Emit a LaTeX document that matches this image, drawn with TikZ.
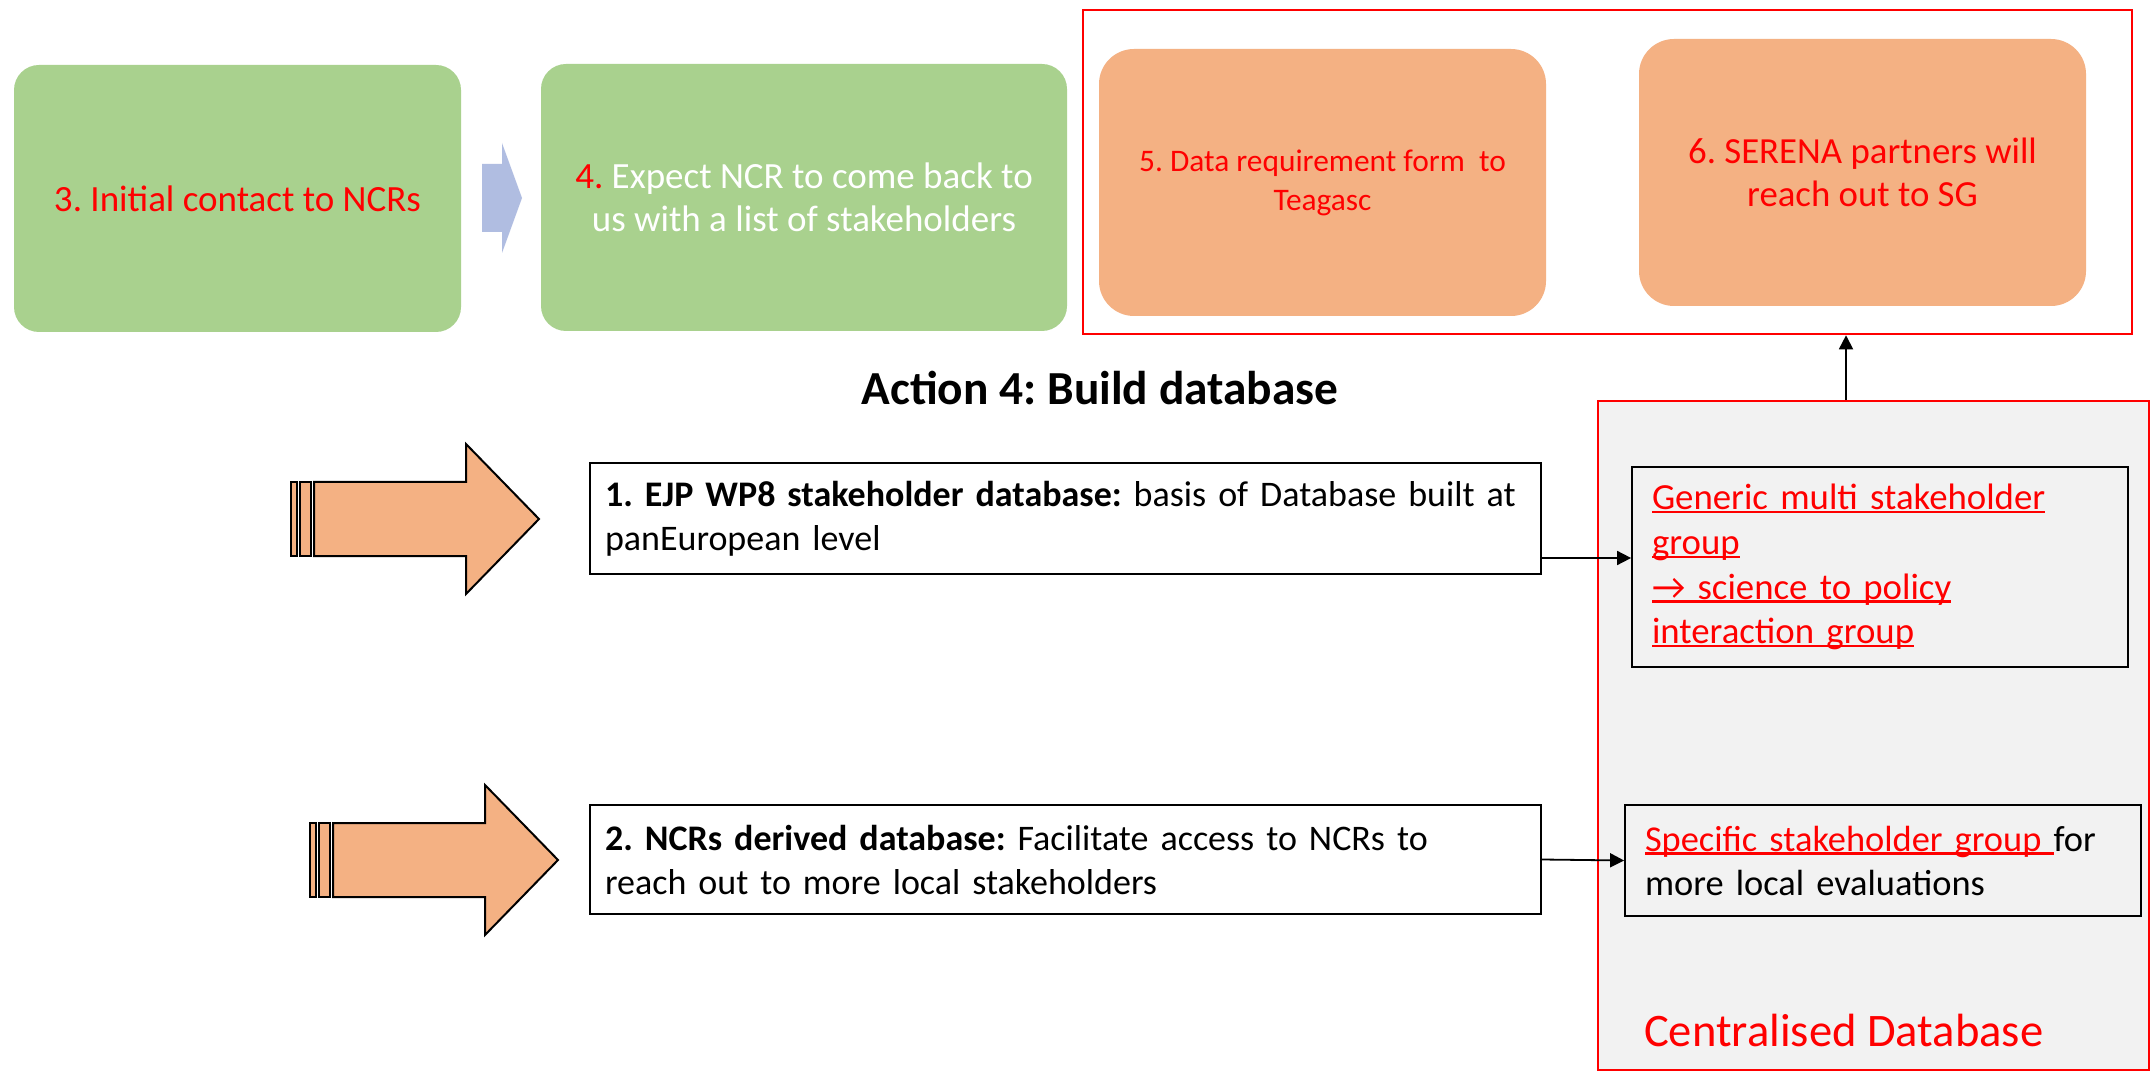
\documentclass[tikz,border=0pt]{standalone}
\usepackage{fontspec}
\setmainfont{Carlito}
\usetikzlibrary{arrows.meta}
\frenchspacing

\definecolor{boxgreen}{HTML}{A9D18E}
\definecolor{boxorange}{HTML}{F4B183}
\definecolor{chevblue}{HTML}{B0BDE1}
\definecolor{dbgray}{HTML}{F2F2F2}
\definecolor{txtred}{HTML}{FF0000}

\newsavebox{\ulbox}
\newcommand{\lineunder}[1]{\leavevmode\sbox{\ulbox}{#1}\rlap{\rule[-0.1em]{\wd\ulbox}{0.06em}}\usebox{\ulbox}}

\tikzset{
    greenbox/.style={fill=boxgreen, rounded corners=12.5pt, minimum width=#1, minimum height=133.5pt, align=center},
    orangebox/.style={fill=boxorange, rounded corners=17.5pt, minimum width=223.5pt, minimum height=133.5pt, align=center, text=txtred},
    plainbox/.style={draw=black, line width=0.9pt, inner xsep=7.5pt, inner ysep=2pt, align=left},
    redframe/.style={draw=txtred, line width=1.3pt},
    arr/.style={-{Triangle[length=7pt,width=7pt]}, line width=0.9pt},
    bigarrow/.style={fill=boxorange, draw=black, line width=1pt, line join=miter},
}

\begin{document}
\begin{tikzpicture}[x=0.5pt,y=-0.5pt]
    \path[use as bounding box, fill=white] (0,0) rectangle (2151,1074);

    \node[greenbox=223.5pt, text=txtred, font=\fontsize{18.5}{22.5}\selectfont] (ncr) at (237.5,198.5) {3. Initial contact to NCRs};
    \fill[chevblue] (482,164) -- (502,164) -- (502,143) -- (522,198) -- (502,253) -- (502,232) -- (482,232) -- cycle;
    \node[greenbox=263pt, text=white, font=\fontsize{18.5}{21.5}\selectfont] (expect) at (804,197.5)
        {\textcolor{txtred}{4.} Expect NCR to come back to\\us with a list of stakeholders};

    \node[redframe, minimum width=524.5pt, minimum height=162pt] (top) at (1607.5,172) {};
    \node[orangebox, font=\fontsize{15.7}{19.5}\selectfont] (form) at (1322.5,182.5) {5. Data requirement form~ to\\Teagasc};
    \node[orangebox, font=\fontsize{18.4}{21.5}\selectfont] (serena) at (1862.5,172.5) {6. SERENA partners will\\reach out to SG};

    \node[anchor=base, font=\fontsize{23.7}{28}\selectfont\bfseries] (title) at (1100,405) {Action 4: Build database};

    \draw[bigarrow] (291,482) rectangle (297,556);
    \draw[bigarrow] (300,482) rectangle (311,556);
    \draw[bigarrow] (314,482) -- (466,482) -- (466,444) -- (539,519) -- (466,594) -- (466,556) -- (314,556) -- cycle;

    \draw[bigarrow] (310,823) rectangle (316,897);
    \draw[bigarrow] (319,823) rectangle (330,897);
    \draw[bigarrow] (333,823) -- (485,823) -- (485,785) -- (558,860) -- (485,935) -- (485,897) -- (333,897) -- cycle;

    \node[plainbox, fill=white, text width=460.5pt, minimum height=55.5pt, font=\fontsize{18}{22}\selectfont] (ejp) at (1065.5,518.5)
        {\textbf{1. EJP WP8 stakeholder database:} basis of Database built at\\panEuropean level};
    \node[plainbox, fill=white, text width=460.5pt, minimum height=54.5pt, font=\fontsize{18}{22}\selectfont] (ncrdb) at (1065.5,859.5)
        {\textbf{2. NCRs derived database:} Facilitate access to NCRs to\\reach out to more local stakeholders};

    \node[redframe, fill=dbgray, minimum width=275.5pt, minimum height=334.5pt] (db) at (1873.5,735.5) {};
    \node[anchor=base west, text=txtred, font=\fontsize{23.3}{28}\selectfont] (dbname) at (1637,1046.7) {Centralised Database};

    \node[plainbox, fill=dbgray, inner xsep=10pt, text width=228pt, minimum height=100pt, text=txtred, font=\fontsize{18.4}{22.4}\selectfont] (generic) at (1880,567)
        {\lineunder{Generic multi stakeholder}\\\lineunder{group}\\\lineunder{→ science to policy}\\\lineunder{interaction group}};
    \node[plainbox, fill=dbgray, inner xsep=10pt, text width=238pt, minimum height=55.5pt, font=\fontsize{18.2}{22}\selectfont] (specific) at (1883,860.5)
        {\textcolor{txtred}{\lineunder{Specific stakeholder group\ }}for\\more local evaluations};

    \coordinate (g1) at ([yshift=4.5pt]generic.west);
    \draw[arr] (g1 -| ejp.east) -- (g1);
    \draw[arr] (ncrdb.east) -- (specific.west);

    \coordinate (up) at ([xshift=-13.75pt]db.north);
    \draw[arr] (up) -- (up |- top.south);

\end{tikzpicture}
\end{document}
